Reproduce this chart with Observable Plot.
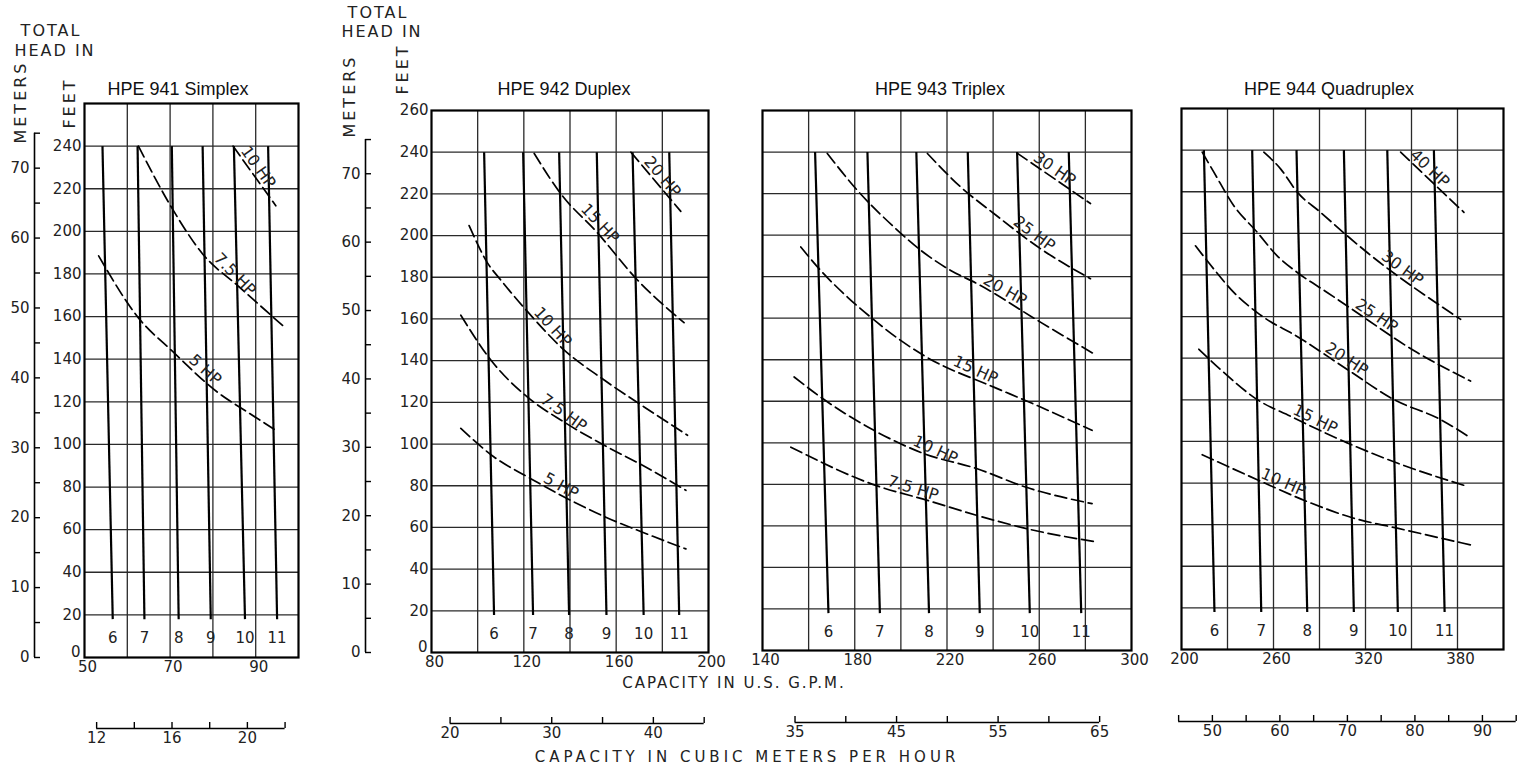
<!DOCTYPE html>
<html>
<head>
<meta charset="utf-8">
<script src="https://cdn.jsdelivr.net/npm/d3@7"></script>
<script src="https://cdn.jsdelivr.net/npm/@observablehq/plot@0.6"></script>
<style>
html,body{margin:0;padding:0;background:#fff;}
#root{position:relative;width:1528px;height:771px;overflow:hidden;background:#fff;}
.abs{position:absolute;}
.title{font-family:"Liberation Sans",Arial,sans-serif;font-size:18px;color:#111;white-space:nowrap;transform:translate(-50%,-50%);}
.hand{font-family:"DejaVu Sans",sans-serif;color:#222;white-space:nowrap;transform:translate(-50%,-50%);}
.vert{transform:translate(-50%,-50%) rotate(-90deg);}
g[aria-label="hp-label"] text{letter-spacing:2.5px;}
</style>
</head>
<body>
<div id="root"></div>
<script>
// ---------- shared values ----------
const FT_PER_M = 3.28084;
const GPM_PER_M3H = 4.40287;
const headMaxFt = 260;
const headZeroFt = [0];
const headTicksFt = [20,40,60,80,100,120,140,160,180,200,220,240];
const headTicksFtTall = [20,40,60,80,100,120,140,160,180,200,220,240,260];
const headGridFt = [20,40,60,80,100,120,140,160,180,200,220,240];
const meterTicks = [0,5,10,15,20,25,30,35,40,45,50,55,60,65,70,75];
const meterLabels = [0,10,20,30,40,50,60,70];
const impellerTopFt = 240;
const impellerBottomFt = 18;
const impellerLabelFt = 9;
const panelTitles = ["HPE 941 Simplex","HPE 942 Duplex","HPE 943 Triplex","HPE 944 Quadruplex"];

// ---------- Simplex ----------
const simplexDomain = [50,100];
const simplexGrid = [60,70,80,90];
const simplexGpmTicks = [50,70,90];
const simplexM3hTicks = [12,14,16,18,20,22];
const simplexM3hLabels = [12,16,20];
// [impeller size, GPM at 240 ft, GPM at bottom]
const simplexImpellers = [["6",54.2,56.6],["7",62.4,64.0],["8",70.4,72.0],["9",77.6,79.5],["10",84.9,87.5],["11",92.9,95.0]];
// [series, GPM, feet]
const simplexHp = [
  ["5 HP",53.3,188.5],["5 HP",62.6,159.4],["5 HP",70.4,144.0],["5 HP",81.4,124.0],["5 HP",88.2,115.0],["5 HP",95.2,106.0],
  ["7.5 HP",62.6,240],["7.5 HP",70.4,211],["7.5 HP",77.6,189.4],["7.5 HP",86.1,174],["7.5 HP",96.4,155.6],
  ["10 HP",84.7,240],["10 HP",94.7,212]
];
const simplexHpLabelAt = [["5 HP",73.7],["7.5 HP",79.5],["10 HP",85.8]];

// ---------- Duplex ----------
const duplexDomain = [80,200];
const duplexGrid = [100,120,140,160,180];
const duplexGpmTicks = [80,120,160,200];
const duplexM3hTicks = [20,25,30,35,40,45];
const duplexM3hLabels = [20,30,40];
const duplexImpellers = [["6",102.8,107.1],["7",119.7,124.0],["8",135.3,139.6],["9",151.6,155.8],["10",167.1,171.9],["11",183.0,187.3]];
const duplexHp = [
  ["5 HP",92.7,107.5],["5 HP",107.1,93.8],["5 HP",123.0,83.4],["5 HP",138.9,73.8],["5 HP",155.5,64.9],["5 HP",171.4,57.7],["5 HP",190.2,49.7],
  ["7.5 HP",92.7,161.8],["7.5 HP",105.7,140.3],["7.5 HP",121.6,122.5],["7.5 HP",137.5,110.5],["7.5 HP",154.8,99.4],["7.5 HP",171.4,89.8],["7.5 HP",190.2,77.8],
  ["10 HP",96.3,204.8],["10 HP",104.3,186.8],["10 HP",110.0,178.7],["10 HP",121.6,163.5],["10 HP",137.5,145.1],["10 HP",154.8,130.7],["10 HP",172.1,117.8],["10 HP",190.9,104.2],
  ["15 HP",124.5,239.4],["15 HP",135.7,220.5],["15 HP",151.9,201.3],["15 HP",169.2,178.7],["15 HP",189.4,158.2],
  ["20 HP",166.4,240],["20 HP",188.0,211.6]
];
const duplexHpLabelAt = [["5 HP",127.4],["7.5 HP",126.0],["10 HP",123.0],["15 HP",143.4],["20 HP",170.7]];

// ---------- Triplex ----------
const triplexDomain = [140,300];
const triplexGrid = [160,180,200,220,240,260,280];
const triplexGpmTicks = [140,180,220,260,300];
const triplexM3hTicks = [35,40,45,50,55,60,65];
const triplexM3hLabels = [35,45,55,65];
const triplexImpellers = [["6",162.8,168.6],["7",185.5,190.9],["8",206.7,212.2],["9",229.0,234.2],["10",250.4,255.9],["11",272.8,278.2]];
const triplexHp = [
  ["7.5 HP",152.3,97.9],["7.5 HP",189.1,79.5],["7.5 HP",211.5,72.3],["7.5 HP",233.1,65.0],["7.5 HP",254.8,58.6],["7.5 HP",285.1,52.2],
  ["10 HP",153.7,131.7],["10 HP",165.2,122.0],["10 HP",188.3,106.0],["10 HP",210.0,94.8],["10 HP",233.1,87.5],["10 HP",254.0,78.7],["10 HP",282.9,70.7],
  ["15 HP",156.6,194.3],["15 HP",165.2,183.0],["15 HP",176.8,170.2],["15 HP",186.9,160.5],["15 HP",199.9,149.3],["15 HP",210.0,142.0],["15 HP",240.3,126.8],["15 HP",254.0,120.4],["15 HP",282.9,106.0],
  ["20 HP",168.1,239.3],["20 HP",181.1,221.6],["20 HP",197.0,203.9],["20 HP",208.6,192.7],["20 HP",221.6,183.0],["20 HP",233.1,176.6],["20 HP",260.5,158.1],["20 HP",283.6,142.9],
  ["25 HP",211.5,239.3],["25 HP",225.9,223.2],["25 HP",240.3,210.4],["25 HP",260.5,193.5],["25 HP",282.2,179.0],
  ["30 HP",250.4,239.5],["30 HP",282.2,215.2]
];
const triplexHpLabelAt = [["7.5 HP",193.4],["10 HP",204.2],["15 HP",221.6],["20 HP",234.5],["25 HP",247.5],["30 HP",256.2]];

// ---------- Quadruplex ----------
const quadDomain = [200,410];
const quadGrid = [230,260,290,320,350,380];
const quadGpmTicks = [200,260,320,380];
const quadM3hTicks = [45,50,55,60,65,70,75,80,85,90,95];
const quadM3hLabels = [50,60,70,80,90];
const quadImpellers = [["6",214.6,221.5],["7",246.1,252.0],["8",275.0,282.0],["9",305.9,312.4],["10",334.2,341.1],["11",364.6,371.6]];
const quadHp = [
  ["10 HP",213.5,93.6],["10 HP",249.4,81.6],["10 HP",282.0,71.1],["10 HP",312.4,63.1],["10 HP",340.7,58.3],["10 HP",390.7,49.9],
  ["15 HP",211.3,144.3],["15 HP",225.4,134.6],["15 HP",249.4,120.1],["15 HP",271.1,112.1],["15 HP",308.1,99.3],["15 HP",340.7,89.6],["15 HP",386.4,78.4],
  ["20 HP",209.1,194.0],["20 HP",221.1,182.8],["20 HP",234.1,171.6],["20 HP",249.4,161.9],["20 HP",258.1,157.5],["20 HP",271.1,152.3],["20 HP",308.1,134.6],["20 HP",338.5,120.1],["20 HP",369.0,110.5],["20 HP",388.5,101.7],
  ["25 HP",213.5,239.0],["25 HP",221.1,229.4],["25 HP",234.1,213.3],["25 HP",249.4,200.5],["25 HP",262.4,189.2],["25 HP",275.5,181.2],["25 HP",295.0,171.6],["25 HP",308.1,165.1],["25 HP",353.7,142.7],["25 HP",388.5,129.0],
  ["30 HP",253.7,239.0],["30 HP",264.6,231.0],["30 HP",275.5,219.8],["30 HP",290.7,210.1],["30 HP",308.1,198.8],["30 HP",321.1,190.8],["30 HP",369.0,165.1],["30 HP",382.0,158.7],
  ["40 HP",342.9,239.0],["40 HP",384.2,210.1]
];
const quadHpLabelAt = [["10 HP",250.2],["15 HP",271.1],["20 HP",291.9],["25 HP",311.5],["30 HP",328.5],["40 HP",347.0]];

// ---------- layout (pixel geometry only) ----------
const panels = [
  {title: panelTitles[0], domain: simplexDomain, grid: simplexGrid, xTicks: simplexGpmTicks, yTicks: headTicksFt,
   impellers: simplexImpellers, hp: simplexHp, labelAt: simplexHpLabelAt, m3hTicks: simplexM3hTicks, m3hLabels: simplexM3hLabels,
   frame: {left: 84, right: 298, top: 103, bottom: 657}, metersX: 34, m3hY: 728, titleX: 178},
  {title: panelTitles[1], domain: duplexDomain, grid: duplexGrid, xTicks: duplexGpmTicks, yTicks: headTicksFtTall,
   impellers: duplexImpellers, hp: duplexHp, labelAt: duplexHpLabelAt, m3hTicks: duplexM3hTicks, m3hLabels: duplexM3hLabels,
   frame: {left: 431, right: 708, top: 110, bottom: 652}, metersX: 364.5, m3hY: 723, titleX: 564},
  {title: panelTitles[2], domain: triplexDomain, grid: triplexGrid, xTicks: triplexGpmTicks, yTicks: null,
   impellers: triplexImpellers, hp: triplexHp, labelAt: triplexHpLabelAt, m3hTicks: triplexM3hTicks, m3hLabels: triplexM3hLabels,
   frame: {left: 762, right: 1131, top: 110, bottom: 650}, metersX: null, m3hY: 722, titleX: 940},
  {title: panelTitles[3], domain: quadDomain, grid: quadGrid, xTicks: quadGpmTicks, yTicks: null,
   impellers: quadImpellers, hp: quadHp, labelAt: quadHpLabelAt, m3hTicks: quadM3hTicks, m3hLabels: quadM3hLabels,
   frame: {left: 1181, right: 1503, top: 108, bottom: 649}, metersX: null, m3hY: 721, titleX: 1329}
];

const root = document.getElementById("root");
const baseStyle = {background: "transparent", overflow: "visible", fontFamily: "DejaVu Sans, sans-serif", fontSize: "15px", color: "#222", maxWidth: "none"};

function place(node, left, top) {
  const wrap = document.createElement("div");
  wrap.className = "abs";
  wrap.style.left = left + "px";
  wrap.style.top = top + "px";
  wrap.appendChild(node);
  root.appendChild(wrap);
}
function addText(text, cls, x, y, extra) {
  const d = document.createElement("div");
  d.className = "abs " + cls;
  d.textContent = text;
  d.style.left = x + "px";
  d.style.top = y + "px";
  Object.assign(d.style, extra || {});
  root.appendChild(d);
}

function interpY(pts, x) {
  let i = 0;
  while (i < pts.length - 2 && x > pts[i + 1][0]) i++;
  const [x0, y0] = pts[i], [x1, y1] = pts[i + 1];
  return y0 + (y1 - y0) * (x - x0) / (x1 - x0);
}

// label anchored on the curve at labelAt, rotated to follow it, lifted a few pixels off the line
function labelRows(hp, labelAt, kx, ky) {
  const lift = 3;
  return labelAt.map(([name, x]) => {
    const pts = hp.filter(r => r[0] === name).map(r => [r[1], r[2]]).sort((a, b) => a[0] - b[0]);
    const h = 14 / kx;
    const y = interpY(pts, x);
    const ya = interpY(pts, x - h), yb = interpY(pts, x + h);
    const rad = Math.atan2(-(yb - ya) * ky, 2 * h * kx);
    return {hp: name, x: x + Math.sin(rad) * lift / kx, y: y + Math.cos(rad) * lift / ky, angle: rad * 180 / Math.PI};
  });
}

const PAD_R = 30;

panels.forEach(p => {
  const f = p.frame;
  const innerW = f.right - f.left;
  const kx = innerW / (p.domain[1] - p.domain[0]);
  const ky = (f.bottom - f.top) / headMaxFt;
  const marginLeft = p.yTicks ? 46 : 20;
  const rows = p.hp.map(([hp, x, y]) => ({hp, x, y}));
  const labels = labelRows(p.hp, p.labelAt, kx, ky);

  const marks = [
    Plot.ruleY(headGridFt, {stroke: "#2a2a2a", strokeWidth: 1.3}),
    Plot.ruleX(p.grid, {y1: 0, y2: headMaxFt, stroke: "#2a2a2a", strokeWidth: 1.3}),
    Plot.link(p.impellers, {x1: d => d[1], y1: () => impellerTopFt, x2: d => d[2], y2: () => impellerBottomFt, stroke: "#000", strokeWidth: 2.2}),
    Plot.text(p.impellers, {x: d => d[2], y: () => impellerLabelFt, text: d => d[0], fontSize: 15}),
    Plot.line(rows, {x: "x", y: "y", z: "hp", curve: "monotone-x", stroke: "#000", strokeWidth: 1.7, strokeDasharray: "12,5"}),
    Plot.text(labels, {x: "x", y: "y", text: "hp", rotate: "angle", textAnchor: "start", lineAnchor: "bottom", fontSize: 16, ariaLabel: "hp-label"}),
    Plot.frame({stroke: "#000", strokeWidth: 2.2}),
    Plot.axisX(p.xTicks, {anchor: "bottom", tickSize: 0, tickPadding: 4, dx: 3, label: null})
  ];
  if (p.yTicks) {
    marks.push(Plot.axisY(p.yTicks, {anchor: "left", tickSize: 0, tickPadding: 3, label: null}));
    marks.push(Plot.text(headZeroFt, {x: () => p.domain[0], y: d => d, text: d => String(d), textAnchor: "end", dx: -4, dy: -5}));
  }

  const chart = Plot.plot({
    width: marginLeft + innerW + PAD_R,
    height: f.bottom + 30,
    marginLeft, marginRight: PAD_R, marginTop: f.top, marginBottom: 30,
    x: {domain: p.domain, axis: null},
    y: {domain: [0, headMaxFt], axis: null},
    style: baseStyle,
    marks
  });
  place(chart, f.left - marginLeft, 0);

  // cubic meters per hour axis
  const m3 = Plot.plot({
    width: marginLeft + innerW + PAD_R,
    height: 36,
    marginLeft, marginRight: PAD_R, marginTop: 2, marginBottom: 28,
    x: {domain: p.domain.map(v => v / GPM_PER_M3H), axis: null},
    y: {domain: [0, 1], axis: null},
    style: baseStyle,
    marks: [
      Plot.ruleY([0], {x1: p.m3hTicks[0], x2: p.m3hTicks[p.m3hTicks.length - 1], stroke: "#000", strokeWidth: 1.6}),
      Plot.ruleX(p.m3hTicks, {y1: 0, y2: 1, stroke: "#000", strokeWidth: 1.4}),
      Plot.axisX(p.m3hLabels, {anchor: "bottom", tickSize: 0, tickPadding: 4, label: null})
    ]
  });
  place(m3, f.left - marginLeft, p.m3hY - 8);

  // meters axis
  if (p.metersX != null) {
    const mt = Plot.plot({
      width: 34 + 7, height: f.bottom + 20,
      marginLeft: 34, marginRight: 1, marginTop: f.top, marginBottom: 20,
      x: {domain: [0, 1], axis: null},
      y: {domain: [0, headMaxFt / FT_PER_M], axis: null},
      style: baseStyle,
      marks: [
        Plot.ruleX([0], {y1: 0, y2: meterTicks[meterTicks.length - 1], stroke: "#000", strokeWidth: 1.6}),
        Plot.ruleY(meterTicks, {x1: 0, x2: 1, stroke: "#000", strokeWidth: 1.4}),
        Plot.axisY(meterLabels, {anchor: "left", tickSize: 0, tickPadding: 5, label: null})
      ]
    });
    place(mt, p.metersX - 34, 0);
  }

  addText(p.title, "title", p.titleX, 89);
});

// axis titles
const lsp = {letterSpacing: "2px", fontSize: "16px"};
addText("TOTAL", "hand", 51, 30, lsp);
addText("HEAD IN", "hand", 55, 50, lsp);
addText("METERS", "hand vert", 20, 102, {letterSpacing: "3px", fontSize: "16px"});
addText("FEET", "hand vert", 69, 103, {letterSpacing: "3px", fontSize: "16px"});
addText("TOTAL", "hand", 378, 12, lsp);
addText("HEAD IN", "hand", 382, 31, lsp);
addText("METERS", "hand vert", 349, 96, {letterSpacing: "3px", fontSize: "16px"});
addText("FEET", "hand vert", 402, 69, {letterSpacing: "3px", fontSize: "16px"});
addText("CAPACITY IN U.S. G.P.M.", "hand", 734, 683, {letterSpacing: "2px", fontSize: "15px"});
addText("CAPACITY IN CUBIC METERS PER HOUR", "hand", 747, 757, {letterSpacing: "4px", fontSize: "15px"});
</script>
</body>
</html>
